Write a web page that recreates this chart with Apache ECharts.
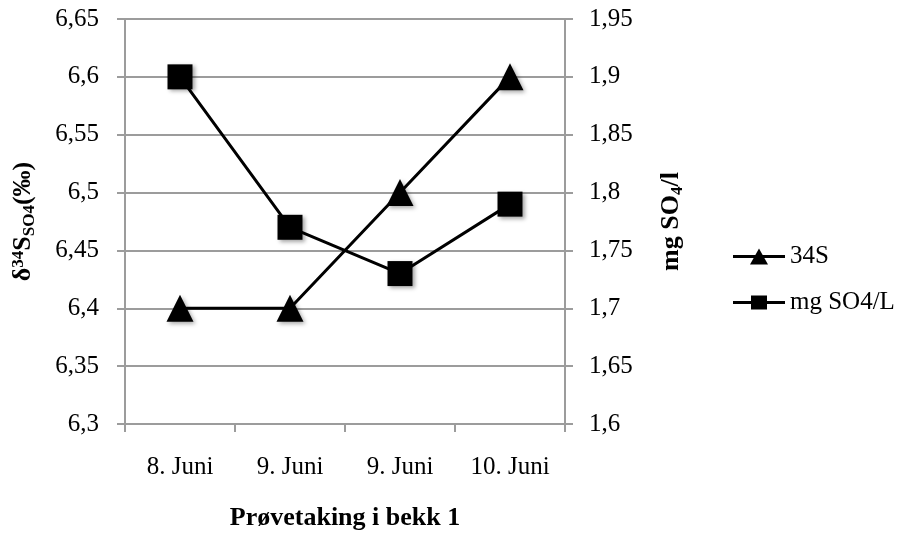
<!DOCTYPE html>
<html><head><meta charset="utf-8">
<script src="https://cdn.jsdelivr.net/npm/echarts@6/dist/echarts.min.js"></script>
<style>html,body{margin:0;padding:0;background:#fff}#c{width:907px;height:533px}</style>
</head><body><div id="c"></div>
<script>
const categories = ["8. Juni", "9. Juni", "9. Juni", "10. Juni"];
const s34 = [6.4, 6.4, 6.5, 6.6];
const mgSO4 = [1.9, 1.77, 1.73, 1.79];
const leftTicks = {min: 6.3, max: 6.65, interval: 0.05};
const rightTicks = {min: 1.6, max: 1.95, interval: 0.05};
const seriesNames = ['34S', 'mg SO4/L'];

const FONT = "Liberation Serif";
const FS = 25;
const grey = "#9c9c9c";
const fmt = v => String(Math.round(v * 100) / 100).replace('.', ',');
const triIcon = 'path://M0,8.5L52,8.5L52,11.5L0,11.5Z M17,18L26,2L35,18Z';
const sqIcon = 'path://M0,8.5L52,8.5L52,11.5L0,11.5Z M18,3L34,3L34,17L18,17Z';

const chart = echarts.init(document.getElementById('c'));
chart.setOption({
  animation: false,
  textStyle: {fontFamily: FONT},
  grid: {left: 125, right: 342, top: 19, bottom: 109, containLabel: false, outerBoundsMode: 'none'},
  legend: {
    orient: 'vertical', left: 728, top: 239,
    itemWidth: 52, itemHeight: 20, itemGap: 21,
    itemStyle: {color: '#000'},
    textStyle: {fontFamily: FONT, fontSize: FS, color: '#000'},
    data: [{name: seriesNames[0], icon: triIcon}, {name: seriesNames[1], icon: sqIcon}]
  },
  xAxis: {
    type: 'category', data: categories, boundaryGap: true,
    axisLine: {lineStyle: {color: grey, width: 2}},
    axisTick: {show: true, length: 8, lineStyle: {color: grey, width: 2}},
    axisLabel: {color: '#000', fontSize: FS, fontFamily: FONT, margin: 31},
    name: 'Prøvetaking i bekk 1', nameLocation: 'middle', nameGap: 81,
    nameTextStyle: {fontFamily: FONT, fontSize: 26, fontWeight: 'bold', color: '#000'}
  },
  yAxis: [{
    type: 'value', position: 'left', min: leftTicks.min, max: leftTicks.max, interval: leftTicks.interval,
    axisLine: {show: true, lineStyle: {color: grey, width: 2}},
    axisTick: {show: true, length: 8, lineStyle: {color: grey, width: 2}},
    splitLine: {show: true, lineStyle: {color: grey, width: 2}},
    axisLabel: {color: '#000', fontSize: FS, fontFamily: FONT, margin: 26, formatter: fmt},
    name: '{b|δ}{sup|34}{b|S}{sub|SO4}{b|(‰)}', nameLocation: 'middle', nameRotate: 90, nameGap: 85,
    nameTextStyle: {
      color: '#000',
      rich: {
        b: {fontFamily: FONT, fontSize: 26, fontWeight: 'bold', color: '#000', lineHeight: 34, verticalAlign: 'middle'},
        sup: {fontFamily: FONT, fontSize: 17, fontWeight: 'bold', color: '#000', lineHeight: 34, verticalAlign: 'top', padding: [4,0,0,0]},
        sub: {fontFamily: FONT, fontSize: 17, fontWeight: 'bold', color: '#000', lineHeight: 34, verticalAlign: 'bottom', padding: [0,0,2,0]}
      }
    }
  }, {
    type: 'value', position: 'right', min: rightTicks.min, max: rightTicks.max, interval: rightTicks.interval,
    axisLine: {show: true, lineStyle: {color: grey, width: 2}},
    axisTick: {show: true, length: 8, lineStyle: {color: grey, width: 2}},
    splitLine: {show: false},
    axisLabel: {color: '#000', fontSize: FS, fontFamily: FONT, margin: 24, formatter: fmt},
    name: '{b|mg SO}{sub|4}{b|/l}', nameLocation: 'middle', nameRotate: 90, nameGap: 91,
    nameTextStyle: {
      color: '#000',
      rich: {
        b: {fontFamily: FONT, fontSize: 26, fontWeight: 'bold', color: '#000', lineHeight: 30, verticalAlign: 'middle'},
        sub: {fontFamily: FONT, fontSize: 17, fontWeight: 'bold', color: '#000', lineHeight: 30, verticalAlign: 'bottom'}
      }
    }
  }],
  series: [{
    name: seriesNames[0], type: 'line', yAxisIndex: 0, data: s34,
    symbol: 'triangle', symbolSize: 27,
    lineStyle: {color: '#000', width: 3},
    itemStyle: {color: '#000', shadowColor: 'rgba(0,0,0,0.35)', shadowBlur: 4, shadowOffsetX: 2, shadowOffsetY: 2}
  }, {
    name: seriesNames[1], type: 'line', yAxisIndex: 1, data: mgSO4,
    symbol: 'rect', symbolSize: 25,
    lineStyle: {color: '#000', width: 3},
    itemStyle: {color: '#000', shadowColor: 'rgba(0,0,0,0.35)', shadowBlur: 4, shadowOffsetX: 2, shadowOffsetY: 2}
  }]
});
</script></body></html>
